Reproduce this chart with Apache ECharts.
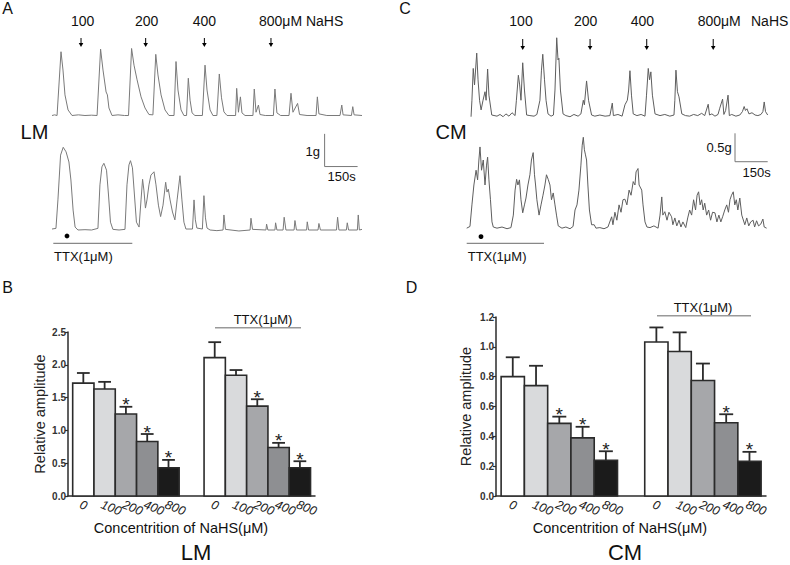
<!DOCTYPE html>
<html><head><meta charset="utf-8">
<script src="https://cdn.jsdelivr.net/npm/echarts@6/dist/echarts.min.js"></script>
<style>html,body{margin:0;padding:0;background:#fff}#c{width:790px;height:565px}</style>
</head><body><div id="c"></div>
<script>
// ---------------- DATA ----------------
const categories = ['0', '100', '200', '400', '800'];
// LM (panel B)
const lmControl    = [1.72, 1.63, 1.25, 0.83, 0.43];
const lmControlErr = [0.155, 0.11, 0.11, 0.115, 0.12];
const lmControlSig = [0, 0, 1, 1, 1];
const lmTTX        = [2.11, 1.84, 1.37, 0.74, 0.43];
const lmTTXErr     = [0.235, 0.08, 0.105, 0.07, 0.10];
const lmTTXSig     = [0, 0, 1, 1, 1];
// CM (panel D)
const cmControl    = [0.80, 0.74, 0.487, 0.39, 0.24];
const cmControlErr = [0.13, 0.133, 0.045, 0.074, 0.06];
const cmControlSig = [0, 0, 1, 1, 1];
const cmTTX        = [1.032, 0.969, 0.774, 0.491, 0.233];
const cmTTXErr     = [0.098, 0.128, 0.114, 0.057, 0.063];
const cmTTXSig     = [0, 0, 0, 1, 1];
const yTicksB = [0, 0.5, 1.0, 1.5, 2.0, 2.5];
const yTicksD = [0, 0.2, 0.4, 0.6, 0.8, 1.0, 1.2];

// Traces: [time (s), tension above baseline (g)]
const lmTop = [[0,0],[12,0.02],[23,0],[41,1.95],[50,1.39],[59,0.63],[73,0.17],[91,0],[120,0.02],[150,0],[180,0.01],[205,0],[221,2.03],[232,1.39],[246,0.72],[252,0.63],[259,0.23],[273,0],[300,0.02],[330,0],[348,0],[362,2.05],[373,1.54],[387,1.09],[405,0.57],[423,0.23],[441,0.03],[459,0.02],[472,1.87],[482,1.24],[496,0.63],[514,0.17],[532,0],[555,0],[564,1.65],[573,0.78],[587,0.17],[600,0],[612,0],[620,1.14],[628,0.47],[637,0.08],[650,0],[684,0],[696,1.54],[705,0.78],[719,0.17],[732,0],[750,0],[761,1.27],[771,0.54],[782,0.11],[796,0],[835,0],[840,0.83],[848,0.1],[857,0.57],[864,0.08],[878,0],[914,0],[920,0.81],[928,0.1],[939,0.32],[946,0.03],[970,0],[1007,0],[1014,0.81],[1023,0.08],[1040,0],[1078,0],[1087,0.68],[1096,0.1],[1117,0.37],[1126,0.03],[1160,0],[1201,0],[1207,0.57],[1214,0.05],[1250,0],[1310,0],[1318,0.32],[1324,0.02],[1362,0],[1368,0.27],[1374,0.02],[1410,0]];
const lmBottom = [[0,0.03],[18,0.05],[27,0.92],[39,2.29],[51,2.53],[64,2.39],[77,2.08],[86,1.53],[96,0.61],[105,0.09],[118,0],[150,0.01],[180,0],[209,0.05],[218,1.38],[227,1.93],[236,2.04],[248,1.83],[257,1.07],[266,0.24],[277,0.02],[305,0],[332,0.02],[341,1.38],[350,1.99],[357,2.12],[366,1.90],[375,1.07],[384,0.24],[396,0.09],[405,0.92],[412,1.55],[418,1.22],[425,0.67],[432,0.92],[441,1.38],[450,1.68],[464,1.78],[473,1.38],[484,0.76],[494,0.41],[505,0.76],[517,1.46],[523,1.16],[529,1.25],[537,0.92],[548,0.55],[559,0.31],[569,0.92],[582,1.66],[591,0.92],[600,0.24],[609,0.03],[639,0.03],[646,0.92],[652,0.31],[659,0.06],[684,0.03],[691,1.05],[698,0.37],[705,0.06],[719,0],[750,-0.02],[778,0],[782,0.46],[789,0.02],[850,-0.03],[901,0],[905,0.36],[912,0.02],[973,0],[976,0.18],[982,0],[1014,0],[1017,0.22],[1023,0],[1051,0],[1056,0.39],[1064,0],[1101,0],[1105,0.29],[1112,0],[1158,0],[1161,0.25],[1167,0],[1210,0],[1214,0.2],[1221,0],[1294,0],[1299,0.39],[1305,0],[1339,0],[1343,0.22],[1349,0],[1389,0],[1393,0.46],[1398,0],[1410,0.02]];
const cmTop = [[20,0.01],[24,0.3],[30,0.86],[36,0.57],[46,1.13],[52,0.66],[59,0.3],[66,0.13],[75,0.3],[84,0.45],[89,0.3],[96,0.85],[102,0.39],[115,0.04],[139,0.02],[153,0.05],[167,0.01],[180,0.06],[194,0.02],[208,0.08],[222,0.03],[228,0.3],[237,0.74],[243,0.57],[249,0.3],[257,0.96],[265,0.48],[275,0.04],[290,0.03],[309,0.02],[322,0.05],[336,0.3],[343,0.83],[349,1.11],[357,0.66],[364,0.3],[373,0.06],[387,0.02],[398,0.04],[405,0.48],[413,1.40],[419,1.01],[423,1.04],[430,0.48],[442,0.06],[455,0.03],[474,0.01],[492,0.05],[511,0.02],[524,0.06],[535,0.3],[540,0.22],[550,0.64],[559,0.3],[573,0.04],[588,0.02],[611,0.04],[635,0.02],[657,0.03],[668,0.25],[673,0.03],[694,0.05],[713,0.02],[726,0.22],[737,0.3],[743,0.48],[749,0.82],[756,0.39],[764,0.06],[781,0.03],[800,0.05],[818,0.02],[825,0.39],[833,0.86],[839,0.66],[845,0.80],[852,0.39],[864,0.06],[887,0.03],[909,0.05],[932,0.02],[951,0.04],[955,0.3],[960,0.83],[967,0.45],[974,0.36],[987,0.06],[1004,0.03],[1023,0.02],[1041,0.05],[1060,0.03],[1078,0.07],[1092,0.03],[1108,0.23],[1114,0.04],[1125,0.06],[1139,0.02],[1153,0.05],[1161,0.16],[1174,0.32],[1180,0.05],[1188,0.12],[1199,0.39],[1205,0.03],[1216,0.05],[1235,0.02],[1253,0.04],[1265,0.1],[1273,0.19],[1279,0.12],[1286,0.15],[1295,0.06],[1309,0.08],[1323,0.04],[1336,0.03],[1350,0.05],[1359,0.1],[1365,0.27],[1371,0.1],[1381,0.04]];
const cmBottom = [[0,0.02],[15,0.05],[24,0.43],[33,0.78],[43,1.04],[50,0.87],[56,1.22],[61,1.45],[68,1.04],[76,1.22],[84,0.78],[91,1.13],[96,1.27],[102,0.87],[109,0.52],[116,0.13],[122,0.04],[139,0.02],[162,0.04],[185,0.01],[203,0.03],[214,0.25],[222,0.69],[229,0.88],[235,0.78],[242,0.87],[249,0.52],[257,0.29],[265,0.43],[272,0.55],[281,0.78],[290,0.96],[297,1.22],[305,1.35],[311,0.96],[316,0.78],[322,0.52],[332,0.25],[341,0.43],[350,0.60],[359,0.78],[366,0.96],[374,0.88],[382,0.78],[389,0.52],[397,0.64],[405,0.43],[412,0.25],[420,0.06],[437,0.02],[455,0.04],[474,0.01],[488,0.05],[497,0.34],[506,0.43],[515,0.69],[524,1.13],[530,1.48],[535,1.62],[540,1.40],[545,1.31],[550,1.22],[556,0.78],[563,0.34],[573,0.08],[585,0.08],[593,0.02],[611,0.03],[630,0.01],[648,0.04],[665,0.22],[671,0.08],[680,0.30],[689,0.16],[699,0.43],[708,0.30],[717,0.52],[726,0.53],[735,0.43],[745,0.69],[754,0.60],[764,0.84],[772,0.78],[777,1.01],[786,1.07],[791,0.78],[803,0.69],[809,0.43],[818,0.13],[827,0.04],[841,0.03],[859,0.06],[878,0.02],[887,0.25],[895,0.57],[900,0.25],[909,0.31],[919,0.16],[928,0.30],[940,0.22],[946,0.08],[955,0.20],[964,0.06],[974,0.16],[983,0.04],[992,0.13],[1005,0.03],[1014,0.2],[1023,0.34],[1032,0.25],[1041,0.52],[1050,0.34],[1057,0.60],[1064,0.66],[1071,0.43],[1078,0.52],[1085,0.34],[1092,0.46],[1101,0.25],[1110,0.34],[1119,0.16],[1128,0.30],[1139,0.29],[1148,0.13],[1157,0.25],[1166,0.13],[1175,0.23],[1184,0.34],[1193,0.43],[1201,0.30],[1208,0.52],[1215,0.60],[1223,0.66],[1230,0.43],[1237,0.52],[1244,0.34],[1253,0.55],[1262,0.25],[1276,0.08],[1285,0.20],[1294,0.06],[1303,0.13],[1314,0.16],[1321,0.04],[1330,0.15],[1339,0.06],[1349,0.09],[1359,0.18],[1365,0.04],[1376,0.02]];

// NaHS addition times (s)
const doseTimesA = [132, 426, 693, 996];
const doseTimesC = [257, 566, 826, 1131];
// scale bars: [time start, tension start, length s, length g]
const scaleBarA = [1240, 1.94, 150, 1];
const scaleBarC = [1231, 1.19, 150, 0.5];

// ---------------- STYLES / LAYOUT ----------------
const FONT = '"Liberation Sans", Arial, Helvetica, sans-serif';
const barColors = ['#ffffff', '#d9dadc', '#a6a7aa', '#8e8f92', '#1b1b1b'];
const EDGE = '#2b2b2b';
const groupStart = [0.22, 6.39];
const xMaxBar = 11.6;
const LABEL_ROT = -22 * Math.PI / 180;

function traceGrid(left, width, baselinePx, pxPerG, minG, maxG) {
  const h = (maxG - minG) * pxPerG;
  const bottom = baselinePx - minG * pxPerG;
  return { left: left, width: width, top: bottom - h, height: h, outerBoundsMode: 'none' };
}

function barData(vals, errs, sig) {
  const out = [];
  [0, 1].forEach(gi => {
    vals[gi].forEach((v, i) => out.push([groupStart[gi] + i + 0.5, v, errs[gi][i], i, sig[gi][i]]));
  });
  return out;
}

function renderBar(params, api) {
  const x = api.value(0), v = api.value(1), e = api.value(2), ci = api.value(3), sig = api.value(4);
  const tl = api.coord([x - 0.5, v]);
  const br = api.coord([x + 0.5, 0]);
  const bw = br[0] - tl[0];
  const cx = (tl[0] + br[0]) / 2;
  const et = api.coord([x, v + e])[1];
  const ch = [
    { type: 'rect', shape: { x: tl[0], y: tl[1], width: bw, height: br[1] - tl[1] },
      style: { fill: barColors[ci], stroke: EDGE, lineWidth: 1.6 } },
    { type: 'line', shape: { x1: cx, y1: tl[1], x2: cx, y2: et }, style: { stroke: EDGE, lineWidth: 1.8 } },
    { type: 'line', shape: { x1: cx - bw * 0.3, y1: et, x2: cx + bw * 0.3, y2: et }, style: { stroke: EDGE, lineWidth: 1.8 } },
    // category tick label (rotated, italic)
    { type: 'text', x: cx - 3, y: br[1] + 8, rotation: LABEL_ROT,
      style: { text: categories[ci], font: 'italic 12.5px ' + FONT, fill: '#222',
               align: 'left', verticalAlign: 'middle', textAlign: 'left', textVerticalAlign: 'middle' } }
  ];
  if (sig) ch.push({ type: 'text', x: cx, y: et - 2,
    style: { text: '*', font: '19px ' + FONT, fill: '#222', align: 'center', verticalAlign: 'middle',
             textAlign: 'center', textVerticalAlign: 'middle' } });
  return { type: 'group', children: ch };
}

function arrowRender(y0, y1) {
  return function (params, api) {
    const x = api.coord([api.value(0), 0])[0];
    return { type: 'group', children: [
      { type: 'line', shape: { x1: x, y1: y0, x2: x, y2: y1 - 3 }, style: { stroke: '#000', lineWidth: 1 } },
      { type: 'polygon', shape: { points: [[x - 2.3, y1 - 4], [x + 2.3, y1 - 4], [x, y1]] }, style: { fill: '#000' } }
    ]};
  };
}

function scaleLine(sb) {
  return [[sb[0], sb[1] + sb[3]], [sb[0], sb[1]], [sb[0] + sb[2], sb[1]]];
}

function T(text, x, y, size, align, extra) {
  extra = extra || {};
  return { type: 'text', x: x, y: y, silent: true,
    style: { text: text, font: (extra.style || '') + ' ' + (extra.weight || 'normal') + ' ' + size + 'px ' + FONT,
      fill: extra.fill || '#111', align: align || 'center', verticalAlign: 'middle',
      textAlign: align || 'center', textVerticalAlign: 'middle' } };
}
function L(x1, y1, x2, y2, color, w) {
  return { type: 'line', silent: true, shape: { x1: x1, y1: y1, x2: x2, y2: y2 }, style: { stroke: color, lineWidth: w } };
}

const grids = [
  traceGrid(52, 310, 115.5, 32.7, -0.3, 2.3),     // 0 A top
  traceGrid(52, 310, 230, 32.7, -0.3, 3.1),       // 1 A bottom
  traceGrid(466.7, 301, 117.3, 56.8, -0.2, 1.6),  // 2 C top
  traceGrid(466.7, 301, 229.3, 56.8, -0.2, 1.8),  // 3 C bottom
  { left: 68, right: 475, top: 332, bottom: 69, outerBoundsMode: 'none' },   // 4 B
  { left: 496, right: 24, top: 317, bottom: 69, outerBoundsMode: 'none' }    // 5 D
];
const gridMin = [-0.3, -0.3, -0.2, -0.2];
const gridMax = [2.3, 3.1, 1.6, 1.8];
const xMaxTrace = [1410, 1410, 1381, 1381];

const xAxes = [], yAxes = [];
for (let i = 0; i < 4; i++) {
  xAxes.push({ gridIndex: i, type: 'value', min: 0, max: xMaxTrace[i], show: false });
  yAxes.push({ gridIndex: i, type: 'value', min: gridMin[i], max: gridMax[i], show: false });
}
function barXAxis(gi) {
  return { gridIndex: gi, type: 'value', min: 0, max: xMaxBar, splitLine: { show: false },
    axisLine: { show: true, lineStyle: { color: EDGE, width: 1.5 } }, axisTick: { show: false },
    axisLabel: { show: false } };
}
function barYAxis(gi, max, interval, gap) {
  return { gridIndex: gi, type: 'value', min: 0, max: max, interval: interval, splitLine: { show: false },
    axisLine: { show: true, lineStyle: { color: EDGE, width: 1.5 } },
    axisTick: { show: true, length: 3, lineStyle: { color: EDGE, width: 1.2 } },
    axisLabel: { formatter: v => v.toFixed(1), fontSize: 10, fontWeight: 'bold', fontFamily: FONT, color: '#333', margin: 2 },
    name: 'Relative amplitude', nameLocation: 'middle', nameGap: gap,
    nameTextStyle: { fontSize: 14.5, fontFamily: FONT, color: '#222' } };
}
xAxes.push(barXAxis(4), barXAxis(5));
yAxes.push(barYAxis(4, yTicksB[yTicksB.length - 1], yTicksB[1] - yTicksB[0], 21),
           barYAxis(5, yTicksD[yTicksD.length - 1], yTicksD[1] - yTicksD[0], 23));

const traceStyle = (color) => ({ type: 'line', showSymbol: false, symbol: 'none', animation: false,
  lineStyle: { color: color, width: 1 }, itemStyle: { color: color }, silent: true });

const series = [
  Object.assign(traceStyle('#7a7a7a'), { xAxisIndex: 0, yAxisIndex: 0, data: lmTop }),
  Object.assign(traceStyle('#7a7a7a'), { xAxisIndex: 1, yAxisIndex: 1, data: lmBottom }),
  Object.assign(traceStyle('#5e5e5e'), { xAxisIndex: 2, yAxisIndex: 2, data: cmTop }),
  Object.assign(traceStyle('#5e5e5e'), { xAxisIndex: 3, yAxisIndex: 3, data: cmBottom }),
  Object.assign(traceStyle('#777'), { xAxisIndex: 1, yAxisIndex: 1, data: scaleLine(scaleBarA) }),
  Object.assign(traceStyle('#777'), { xAxisIndex: 3, yAxisIndex: 3, data: scaleLine(scaleBarC) }),
  { type: 'custom', xAxisIndex: 0, yAxisIndex: 0, clip: false, silent: true, animation: false,
    renderItem: arrowRender(38, 47), data: doseTimesA.map(t => [t, 0]), encode: { x: 0, y: 1 } },
  { type: 'custom', xAxisIndex: 2, yAxisIndex: 2, clip: false, silent: true, animation: false,
    renderItem: arrowRender(39, 50), data: doseTimesC.map(t => [t, 0]), encode: { x: 0, y: 1 } },
  { type: 'custom', xAxisIndex: 4, yAxisIndex: 4, clip: false, silent: true, animation: false,
    renderItem: renderBar, encode: { x: 0, y: 1 },
    data: barData([lmControl, lmTTX], [lmControlErr, lmTTXErr], [lmControlSig, lmTTXSig]) },
  { type: 'custom', xAxisIndex: 5, yAxisIndex: 5, clip: false, silent: true, animation: false,
    renderItem: renderBar, encode: { x: 0, y: 1 },
    data: barData([cmControl, cmTTX], [cmControlErr, cmTTXErr], [cmControlSig, cmTTXSig]) }
];

const graphic = [
  T('A', 7.5, 8, 16), T('C', 405, 8, 16), T('B', 7.5, 287, 16), T('D', 411.5, 287, 16),
  T('LM', 34.5, 131.5, 20), T('CM', 451, 132, 20),
  // dose labels A
  T('100', 82.7, 20.5, 14), T('200', 146.7, 20.5, 14), T('400', 204.3, 20.5, 14), T('800μM NaHS', 259, 20.5, 14, 'left'),
  // dose labels C
  T('100', 521, 20.5, 14), T('200', 585.7, 20.5, 14), T('400', 642.3, 20.5, 14), T('800μM', 697.7, 20.5, 14, 'left'), T('NaHS', 751, 20.5, 14, 'left'),
  // scale bar labels
  T('1g', 320, 151.7, 13, 'right'), T('150s', 341.7, 176.7, 13),
  T('0.5g', 731.7, 147.3, 13, 'right'), T('150s', 756.7, 172.7, 13),
  // TTX under traces
  L(53.3, 243.3, 132.3, 243.3, '#888', 1.2), T('TTX(1μM)', 54, 256, 13, 'left'),
  L(466.7, 243.3, 544, 243.3, '#888', 1.2), T('TTX(1μM)', 467.7, 256, 13, 'left'),
  { type: 'circle', silent: true, shape: { cx: 67, cy: 236, r: 2.4 }, style: { fill: '#000' } },
  { type: 'circle', silent: true, shape: { cx: 481, cy: 236.7, r: 2.4 }, style: { fill: '#000' } },
  // TTX over bar groups
  L(215, 327.7, 301, 327.7, '#999', 1.5), T('TTX(1μM)', 263, 319, 13),
  L(657, 315.7, 751, 315.7, '#999', 1.5), T('TTX(1μM)', 703, 307.7, 13),
  // x axis names
  T('Concentrition of NaHS(μM)', 181, 528, 14.5), T('Concentrition of NaHS(μM)', 620, 528, 14.5),
  T('LM', 196, 552.5, 22), T('CM', 625, 552.5, 22)
];

const chart = echarts.init(document.getElementById('c'), null, { renderer: 'svg', width: 790, height: 565 });
chart.setOption({
  animation: false,
  backgroundColor: '#fff',
  textStyle: { fontFamily: FONT },
  grid: grids, xAxis: xAxes, yAxis: yAxes, series: series,
  graphic: { elements: graphic }
});
</script></body></html>
